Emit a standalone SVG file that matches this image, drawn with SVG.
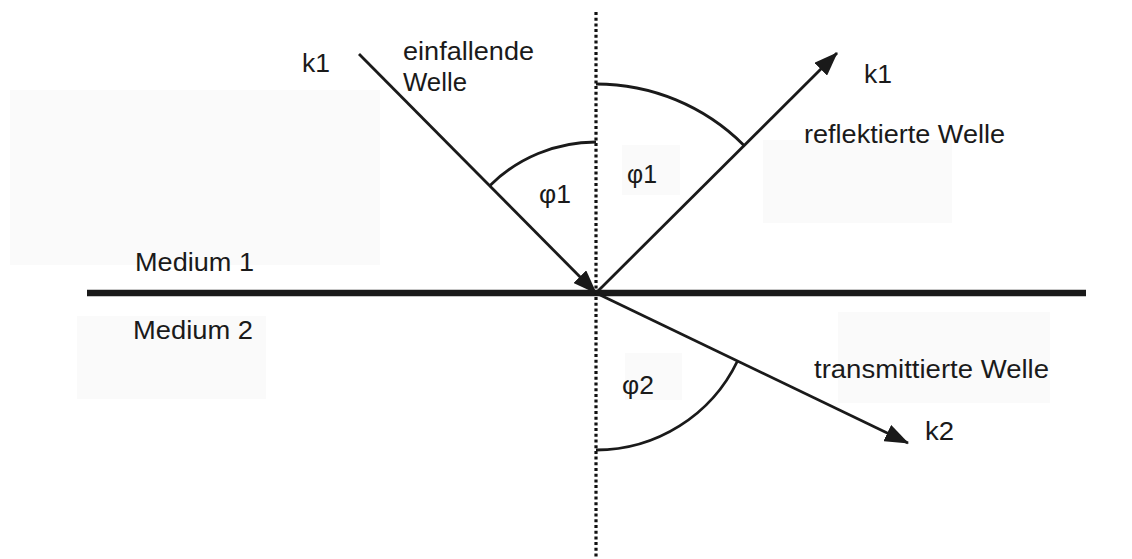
<svg xmlns="http://www.w3.org/2000/svg" width="1132" height="559" viewBox="0 0 1132 559">
  <style>
    .lbl { font-family: "Liberation Sans", Arial, sans-serif; font-size: 25px; fill: #1a1a1a; }
    .ray { stroke: #1a1a1a; stroke-width: 2.8; fill: none; }
    .arc { stroke: #1a1a1a; stroke-width: 2.8; fill: none; }
    .bg { fill: #fafafa; }
  </style>
  <defs>
    <marker id="arrow" viewBox="0 0 24 18" refX="23" refY="9" markerWidth="24" markerHeight="18" markerUnits="userSpaceOnUse" orient="auto">
      <path d="M0,0 L24,9 L0,18 z" fill="#1a1a1a"/>
    </marker>
  </defs>
  <rect width="1132" height="559" fill="#ffffff"/>
  <g id="background">
    <rect class="bg" x="10" y="90" width="370" height="175"/>
    <rect class="bg" x="77" y="316" width="189" height="83"/>
    <rect class="bg" x="763" y="140" width="189" height="83"/>
    <rect class="bg" x="622" y="145" width="58" height="50"/>
    <rect class="bg" x="838" y="312" width="212" height="91"/>
    <rect class="bg" x="625" y="353" width="57" height="47"/>
  </g>
  <g id="connectors">
    <line id="interface" x1="87" y1="293" x2="1086" y2="293" stroke="#1a1a1a" stroke-width="6.5"/>
    <line id="normal" x1="596" y1="12" x2="596" y2="559" stroke="#111111" stroke-width="3.2" stroke-dasharray="3 2.7"/>
    <line id="incident" class="ray" x1="359" y1="54" x2="596" y2="293" marker-end="url(#arrow)"/>
    <line id="reflected" class="ray" x1="596" y1="293" x2="837" y2="53" marker-end="url(#arrow)"/>
    <line id="transmitted" class="ray" x1="596" y1="293" x2="908" y2="443" marker-end="url(#arrow)"/>
    <path id="arc-incident" class="arc" d="M596,142 A151,151 0 0 0 489.2,186.2"/>
    <path id="arc-reflected" class="arc" d="M596,84 A209,209 0 0 1 743.8,145.2"/>
    <path id="arc-transmitted" class="arc" d="M596,450 A157,157 0 0 0 737.5,361"/>
  </g>
  <g id="label-k1-in"><text class="lbl" x="302" y="72" textLength="28" lengthAdjust="spacingAndGlyphs">k1</text></g>
  <g id="label-einfallende"><text class="lbl" x="403" y="60" textLength="131" lengthAdjust="spacingAndGlyphs">einfallende</text><text class="lbl" x="403" y="91" textLength="64" lengthAdjust="spacingAndGlyphs">Welle</text></g>
  <g id="label-phi1-left"><text class="lbl" x="539" y="203" textLength="32" lengthAdjust="spacingAndGlyphs">φ1</text></g>
  <g id="label-phi1-right"><text class="lbl" x="627" y="183" textLength="30" lengthAdjust="spacingAndGlyphs">φ1</text></g>
  <g id="label-k1-out"><text class="lbl" x="864" y="83" textLength="28" lengthAdjust="spacingAndGlyphs">k1</text></g>
  <g id="label-reflektierte"><text class="lbl" x="804" y="143" textLength="201" lengthAdjust="spacingAndGlyphs">reflektierte Welle</text></g>
  <g id="label-medium1"><text class="lbl" x="135" y="271" textLength="119" lengthAdjust="spacingAndGlyphs">Medium 1</text></g>
  <g id="label-medium2"><text class="lbl" x="133" y="339" textLength="120" lengthAdjust="spacingAndGlyphs">Medium 2</text></g>
  <g id="label-phi2"><text class="lbl" x="622" y="394" textLength="32" lengthAdjust="spacingAndGlyphs">φ2</text></g>
  <g id="label-transmittierte"><text class="lbl" x="814" y="378" textLength="235" lengthAdjust="spacingAndGlyphs">transmittierte Welle</text></g>
  <g id="label-k2"><text class="lbl" x="925" y="440" textLength="29" lengthAdjust="spacingAndGlyphs">k2</text></g>
</svg>
